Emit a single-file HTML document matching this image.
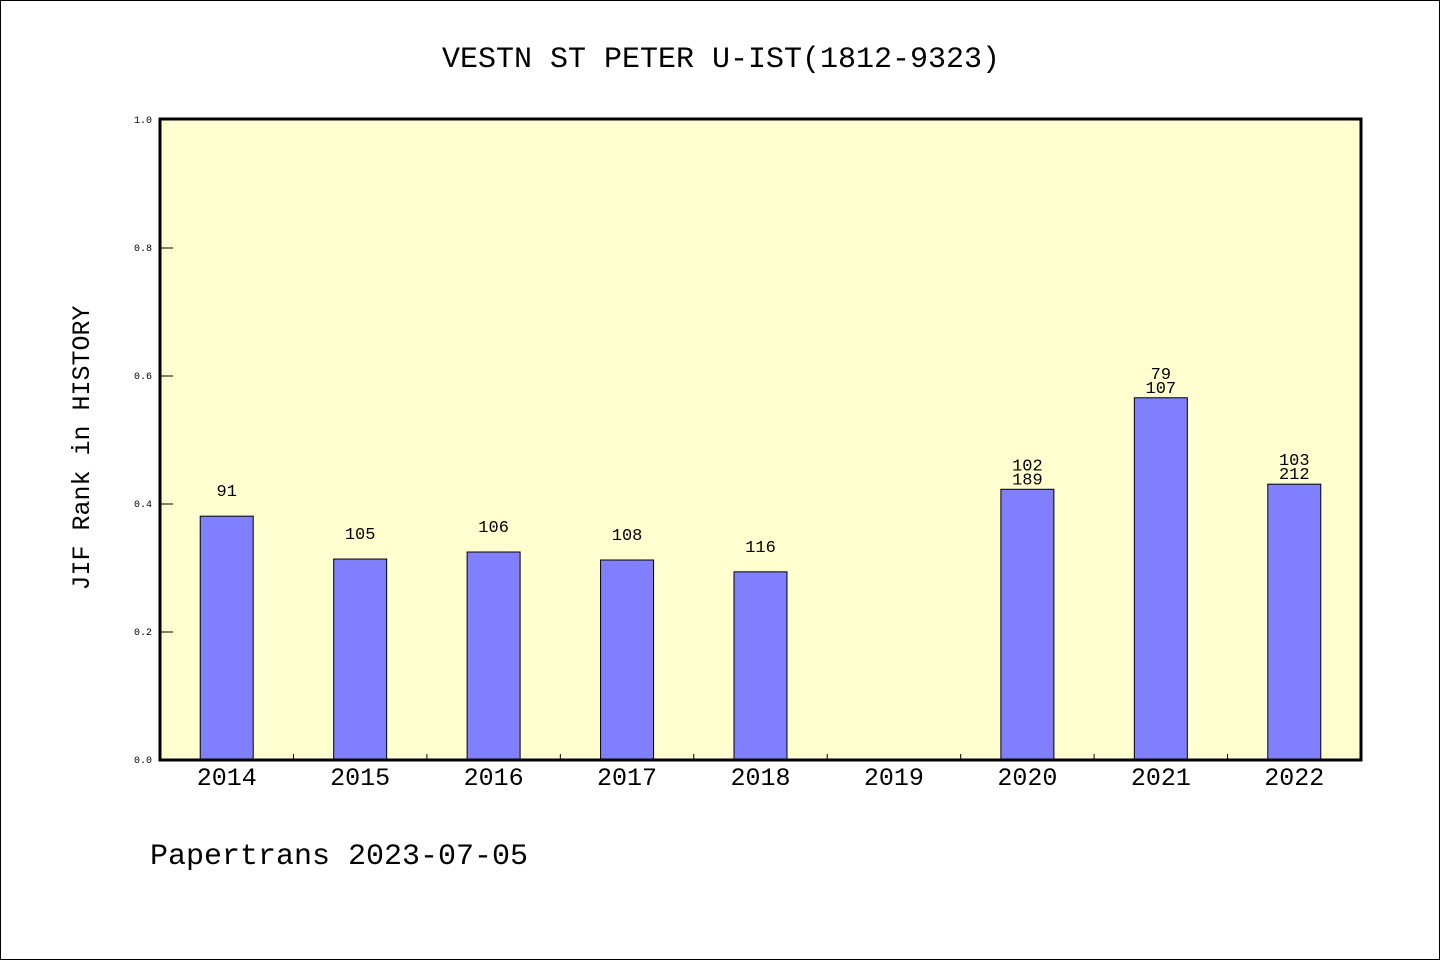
<!DOCTYPE html>
<html><head><meta charset="utf-8"><style>
html,body{margin:0;padding:0;background:#fff;}
svg{display:block;font-family:"Liberation Mono",monospace;}
</style></head><body>
<svg id="chart" width="1440" height="960" viewBox="0 0 1440 960">
<rect x="0.5" y="0.5" width="1439" height="959" fill="#fff" stroke="#000"/>
<text x="721" y="67" font-size="30" text-anchor="middle">VESTN ST PETER U-IST(1812-9323)</text>
<rect x="160" y="119" width="1201" height="641" fill="#ffffd0"/>
<g id="bars"></g>
<g id="yticks"></g>
<g id="xticks"></g>
<rect x="160" y="119" width="1201" height="641" fill="none" stroke="#000" stroke-width="3"/>
<text transform="translate(89,448) rotate(-90)" font-size="25" text-anchor="middle">JIF Rank in HISTORY</text>
<text x="150" y="864" font-size="30">Papertrans 2023-07-05</text>
</svg>
<script>
const categories=["2014","2015","2016","2017","2018","2019","2020","2021","2022"];
const values=[0.381,0.314,0.325,0.3125,0.294,null,0.423,0.566,0.431];
const labelTop=["91","105","106","108","116","","102","79","103"];
const labelBottom=["","","","","","","189","107","212"];
const yTicks=[0,0.2,0.4,0.6,0.8,1.0];
const NS="http://www.w3.org/2000/svg";
const X0=160,X1=1361,Y0=760,Y1=120;
const bw=(X1-X0)/categories.length;
const xc=i=>X0+bw*(i+0.5);
const y=v=>Y0-(Y0-Y1)*v;
function mk(tag,attrs,parent,text){const e=document.createElementNS(NS,tag);for(const k in attrs)e.setAttribute(k,attrs[k]);if(text!==undefined)e.textContent=text;parent.appendChild(e);return e;}
const bars=document.getElementById('bars'),yt=document.getElementById('yticks'),xt=document.getElementById('xticks');
categories.forEach((c,i)=>{
  const v=values[i];
  if(v!=null){
    const r=mk('rect',{x:xc(i)-26.5,y:y(v),width:53,height:Y0-y(v),fill:'#8080ff',stroke:'#000','stroke-width':1},bars);
    
    
    if(labelBottom[i]){
      const a=mk('text',{x:xc(i),y:y(v)-19,'font-size':17,'text-anchor':'middle'},bars,labelTop[i]);
      
      
      const b=mk('text',{x:xc(i),y:y(v)-5,'font-size':17,'text-anchor':'middle'},bars,labelBottom[i]);
      
      
    }else{
      const a=mk('text',{x:xc(i),y:y(v)-20,'font-size':17,'text-anchor':'middle'},bars,labelTop[i]);
      
      
    }
  }
  const t=mk('text',{x:xc(i),y:785,'font-size':25,'text-anchor':'middle'},xt,c);
  
  
  if(i>0){
    const l=mk('line',{x1:X0+bw*i,x2:X0+bw*i,y1:Y0,y2:Y0-6,stroke:'#000','stroke-width':1},xt);
    
    
  }
});
yTicks.forEach(v=>{
  const l=mk('line',{x1:X0,x2:X0+13,y1:y(v),y2:y(v),stroke:'#000','stroke-width':1},yt);
  
  
  const t=mk('text',{x:152,y:y(v)+3,'font-size':10,'text-anchor':'end'},yt,v.toFixed(1));
  
  
});
</script>
</body></html>
